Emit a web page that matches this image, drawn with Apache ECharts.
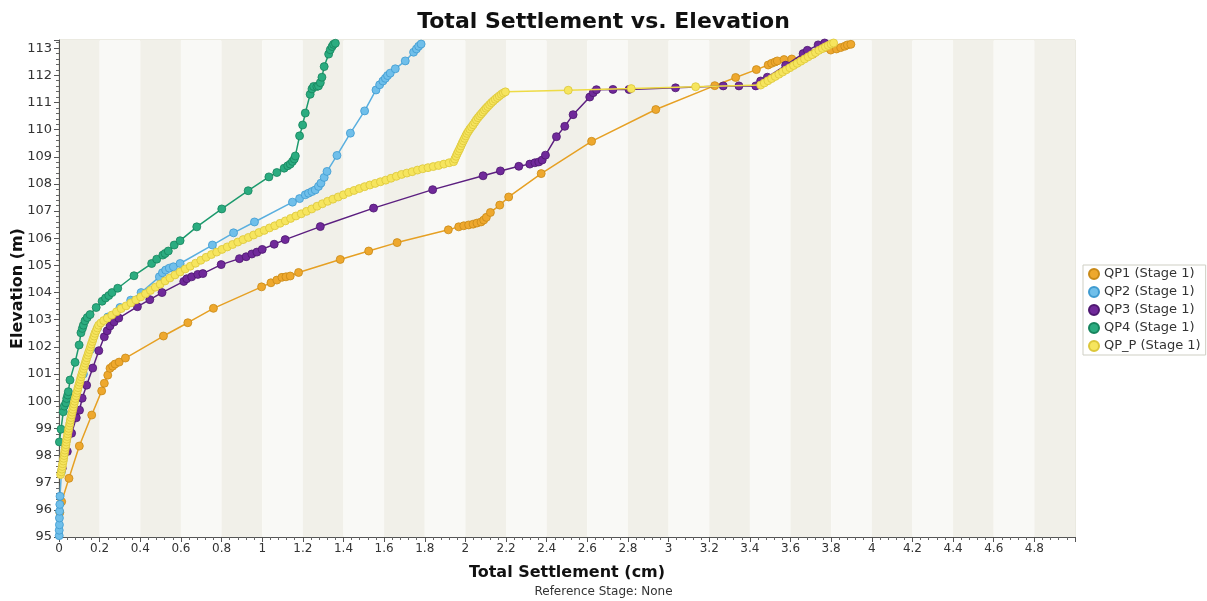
<!DOCTYPE html>
<html>
<head>
<meta charset="utf-8">
<script src="https://cdn.jsdelivr.net/npm/echarts@6/dist/echarts.min.js"></script>
<style>
  html, body { margin: 0; padding: 0; background: #ffffff; }
  #chart { width: 1207px; height: 601px; }
</style>
</head>
<body>
<div id="chart"></div>
<script>
// Settlement profiles: x = total settlement (cm), y = elevation (m)
const seriesNames = ['QP1 (Stage 1)', 'QP2 (Stage 1)', 'QP3 (Stage 1)', 'QP4 (Stage 1)', 'QP_P (Stage 1)'];

const qp1X = [0.004, 0.013, 0.049, 0.100, 0.161, 0.210, 0.223, 0.240, 0.251, 0.264, 0.276, 0.296, 0.327, 0.514, 0.634, 0.760, 0.997, 1.043, 1.072, 1.097, 1.117, 1.138, 1.179, 1.384, 1.524, 1.664, 1.916, 1.967, 1.992, 2.016, 2.038, 2.057, 2.077, 2.090, 2.103, 2.123, 2.169, 2.213, 2.373, 2.621, 2.937, 3.227, 3.330, 3.432, 3.490, 3.507, 3.524, 3.535, 3.568, 3.606, 3.710, 3.798, 3.826, 3.847, 3.867, 3.880, 3.897];
const qp1Y = [95.90, 96.30, 97.16, 98.35, 99.49, 100.38, 100.66, 100.96, 101.21, 101.29, 101.37, 101.44, 101.59, 102.40, 102.89, 103.42, 104.21, 104.36, 104.46, 104.56, 104.58, 104.61, 104.74, 105.22, 105.53, 105.84, 106.31, 106.42, 106.46, 106.49, 106.52, 106.56, 106.60, 106.67, 106.77, 106.95, 107.22, 107.52, 108.38, 109.57, 110.74, 111.62, 111.92, 112.21, 112.38, 112.44, 112.49, 112.53, 112.58, 112.60, 112.78, 112.93, 112.97, 113.02, 113.07, 113.12, 113.14];

const qp2X = [0.001, 0.001, 0.002, 0.002, 0.003, 0.004, 0.005, 0.012, 0.030, 0.055, 0.085, 0.120, 0.155, 0.190, 0.240, 0.300, 0.353, 0.404, 0.494, 0.509, 0.525, 0.543, 0.563, 0.596, 0.755, 0.859, 0.962, 1.149, 1.184, 1.212, 1.228, 1.245, 1.261, 1.277, 1.289, 1.305, 1.319, 1.368, 1.434, 1.504, 1.560, 1.578, 1.594, 1.606, 1.617, 1.630, 1.655, 1.704, 1.745, 1.759, 1.770, 1.782];
const qp2Y = [95.05, 95.25, 95.45, 95.70, 95.95, 96.20, 96.50, 97.40, 98.30, 99.20, 100.10, 101.00, 101.90, 102.70, 103.10, 103.45, 103.72, 104.00, 104.58, 104.73, 104.83, 104.90, 104.95, 105.07, 105.75, 106.20, 106.60, 107.33, 107.46, 107.60, 107.66, 107.72, 107.78, 107.91, 108.03, 108.24, 108.46, 109.05, 109.87, 110.69, 111.46, 111.65, 111.79, 111.89, 111.99, 112.08, 112.24, 112.53, 112.85, 112.97, 113.07, 113.15];

const qp3X = [0.016, 0.041, 0.062, 0.085, 0.101, 0.114, 0.136, 0.166, 0.196, 0.223, 0.237, 0.251, 0.271, 0.294, 0.386, 0.447, 0.507, 0.614, 0.629, 0.653, 0.683, 0.708, 0.798, 0.888, 0.921, 0.949, 0.974, 1.000, 1.059, 1.113, 1.286, 1.548, 1.839, 2.087, 2.172, 2.263, 2.317, 2.342, 2.361, 2.378, 2.394, 2.448, 2.489, 2.530, 2.612, 2.629, 2.645, 2.726, 2.805, 3.034, 3.269, 3.346, 3.429, 3.453, 3.486, 3.576, 3.662, 3.683, 3.736, 3.768];
const qp3Y = [97.53, 98.15, 98.82, 99.39, 99.67, 100.11, 100.59, 101.22, 101.86, 102.37, 102.59, 102.77, 102.92, 103.06, 103.48, 103.74, 104.00, 104.41, 104.51, 104.58, 104.67, 104.70, 105.03, 105.25, 105.32, 105.42, 105.49, 105.59, 105.78, 105.95, 106.43, 107.11, 107.79, 108.30, 108.48, 108.65, 108.73, 108.78, 108.81, 108.88, 109.06, 109.74, 110.12, 110.55, 111.20, 111.36, 111.47, 111.48, 111.48, 111.54, 111.61, 111.61, 111.61, 111.79, 111.93, 112.37, 112.80, 112.92, 113.12, 113.19];

const qp4X = [0.002, 0.010, 0.021, 0.026, 0.034, 0.038, 0.043, 0.046, 0.054, 0.079, 0.099, 0.108, 0.115, 0.120, 0.128, 0.139, 0.153, 0.183, 0.212, 0.229, 0.245, 0.261, 0.289, 0.369, 0.456, 0.481, 0.511, 0.522, 0.538, 0.567, 0.596, 0.678, 0.801, 0.931, 1.033, 1.072, 1.108, 1.126, 1.138, 1.149, 1.158, 1.163, 1.184, 1.199, 1.212, 1.236, 1.245, 1.253, 1.269, 1.277, 1.286, 1.294, 1.305, 1.327, 1.335, 1.344, 1.351, 1.360];
const qp4Y = [98.50, 98.97, 99.61, 99.82, 99.94, 100.10, 100.23, 100.35, 100.78, 101.43, 102.07, 102.52, 102.68, 102.80, 102.96, 103.08, 103.19, 103.45, 103.68, 103.80, 103.89, 104.00, 104.16, 104.62, 105.07, 105.23, 105.38, 105.44, 105.53, 105.75, 105.91, 106.42, 107.08, 107.75, 108.26, 108.42, 108.58, 108.67, 108.73, 108.83, 108.92, 109.03, 109.77, 110.17, 110.61, 111.30, 111.50, 111.59, 111.59, 111.61, 111.73, 111.93, 112.32, 112.78, 112.94, 113.06, 113.14, 113.18];

const qpPX = [
  0.008, 0.011, 0.014, 0.016, 0.018, 0.021, 0.023, 0.025, 0.027, 0.029, 0.032, 0.034, 0.036, 0.038, 0.041, 0.043, 0.046, 0.048, 0.051, 0.054,
  0.056, 0.059, 0.062, 0.065, 0.068, 0.071, 0.074, 0.077, 0.080, 0.084, 0.087, 0.091, 0.094, 0.098, 0.102, 0.105, 0.109, 0.113, 0.117, 0.121,
  0.125, 0.129, 0.133, 0.137, 0.142, 0.146, 0.151, 0.155, 0.159, 0.164, 0.168, 0.173, 0.177, 0.183, 0.189, 0.195,
  0.206, 0.220, 0.238, 0.260, 0.283, 0.306, 0.330, 0.354, 0.378, 0.402, 0.426, 0.450, 0.474, 0.498, 0.522, 0.546, 0.571, 0.596, 0.621, 0.646,
  0.672, 0.698, 0.724, 0.750, 0.776, 0.802, 0.828, 0.854, 0.880, 0.906, 0.932, 0.958, 0.984, 1.010, 1.036, 1.062, 1.088, 1.114, 1.140, 1.166,
  1.192, 1.218, 1.244, 1.270, 1.296, 1.322, 1.348, 1.374, 1.400, 1.426, 1.452, 1.478, 1.504, 1.530, 1.556, 1.582, 1.608, 1.634, 1.660, 1.686,
  1.712, 1.738, 1.764, 1.790, 1.816, 1.842, 1.868, 1.894, 1.920,
  1.942, 1.948, 1.954, 1.960, 1.966, 1.972, 1.978, 1.984, 1.990, 1.996, 2.002, 2.008, 2.015, 2.022, 2.030, 2.038, 2.046, 2.054, 2.062, 2.070,
  2.078, 2.086, 2.094, 2.102, 2.110, 2.119, 2.128, 2.137, 2.147, 2.157, 2.167, 2.177, 2.187, 2.197,
  2.506, 2.816, 3.133,
  3.453, 3.471, 3.489, 3.507, 3.525, 3.543, 3.561, 3.579, 3.597, 3.615, 3.633, 3.651, 3.669, 3.687, 3.705, 3.723, 3.740, 3.757, 3.772, 3.786,
  3.800, 3.812
];
const qpPY = [
  97.3, 97.4, 97.5, 97.6, 97.7, 97.8, 97.9, 98.0, 98.1, 98.2, 98.3, 98.4, 98.5, 98.6, 98.7, 98.8, 98.9, 99.0, 99.1, 99.2,
  99.3, 99.4, 99.5, 99.6, 99.7, 99.8, 99.9, 100.0, 100.1, 100.2, 100.3, 100.4, 100.5, 100.6, 100.7, 100.8, 100.9, 101.0, 101.1, 101.2,
  101.3, 101.4, 101.5, 101.6, 101.7, 101.8, 101.9, 102.0, 102.1, 102.2, 102.3, 102.4, 102.5, 102.6, 102.7, 102.8,
  102.88, 102.97, 103.06, 103.17, 103.29, 103.41, 103.51, 103.62, 103.73, 103.84, 103.96, 104.08, 104.20, 104.31, 104.43, 104.54, 104.65, 104.76, 104.87, 104.97,
  105.08, 105.19, 105.30, 105.40, 105.49, 105.59, 105.68, 105.77, 105.86, 105.95, 106.03, 106.12, 106.21, 106.29, 106.38, 106.46, 106.55, 106.64, 106.73, 106.82,
  106.90, 106.99, 107.08, 107.18, 107.27, 107.36, 107.44, 107.52, 107.60, 107.69, 107.76, 107.83, 107.90, 107.96, 108.02, 108.08, 108.14, 108.21, 108.28, 108.35,
  108.40, 108.45, 108.51, 108.56, 108.60, 108.64, 108.68, 108.73, 108.78,
  108.82, 108.92, 109.02, 109.12, 109.21, 109.30, 109.40, 109.50, 109.59, 109.68, 109.77, 109.86, 109.94, 110.02, 110.10, 110.18, 110.27, 110.36, 110.44, 110.51,
  110.58, 110.65, 110.72, 110.79, 110.85, 110.92, 110.99, 111.05, 111.12, 111.18, 111.24, 111.30, 111.35, 111.39,
  111.45, 111.51, 111.58,
  111.64, 111.72, 111.80, 111.88, 111.96, 112.04, 112.12, 112.20, 112.28, 112.36, 112.44, 112.52, 112.60, 112.68, 112.76, 112.84, 112.92, 112.99, 113.05, 113.10,
  113.15, 113.19
];

const xRange = [0, 5];
const yRange = [95, 113.3];

const styles = [
  { line: '#e6a023', fill: '#eea82e', border: '#c98a18' },
  { line: '#5aafdf', fill: '#70bfea', border: '#3f9bd0' },
  { line: '#5c1f80', fill: '#70299a', border: '#4e1870' },
  { line: '#1c9a6d', fill: '#2bac80', border: '#17845d' },
  { line: '#eedb45', fill: '#f6e55e', border: '#dcc73a' }
];

function pairs(xs, ys) {
  return xs.map((x, i) => [x, ys[i]]);
}
const dataSets = [pairs(qp1X, qp1Y), pairs(qp2X, qp2Y), pairs(qp3X, qp3Y), pairs(qp4X, qp4Y), pairs(qpPX, qpPY)];

const chart = echarts.init(document.getElementById('chart'), null, { renderer: 'canvas' });

const axisFont = 'DejaVu Sans, Verdana, sans-serif';

chart.setOption({
  animation: false,
  backgroundColor: '#ffffff',
  title: {
    text: 'Total Settlement vs. Elevation',
    left: 'center',
    top: 6,
    textStyle: { fontFamily: axisFont, fontSize: 22, fontWeight: 'bold', color: '#111' }
  },
  graphic: [{
    type: 'text',
    left: 'center',
    top: 586,
    style: { text: 'Reference Stage: None', font: '12px ' + axisFont, fill: '#333' }
  }],
  legend: {
    orient: 'vertical',
    left: 1083,
    top: 265,
    data: seriesNames,
    icon: 'circle',
    itemWidth: 10,
    itemHeight: 10,
    itemGap: 4,
    padding: [2, 5, 2, 5],
    borderColor: '#cfcfc4',
    borderWidth: 1,
    backgroundColor: '#ffffff',
    borderRadius: 0,
    textStyle: { fontFamily: axisFont, fontSize: 13, color: '#333', lineHeight: 14 }
  },
  grid: {
    left: 59, right: 132, top: 40, bottom: 64,
    outerBoundsMode: 'none',
    containLabel: false,
    show: true,
    borderColor: '#d6d4c2',
    borderWidth: 1,
    backgroundColor: 'transparent'
  },
  xAxis: {
    type: 'value',
    min: xRange[0], max: xRange[1], interval: 0.2,
    name: 'Total Settlement (cm)',
    nameLocation: 'middle',
    nameGap: 28,
    nameMoveOverlap: false,
    nameTextStyle: { fontFamily: axisFont, fontSize: 16, fontWeight: 'bold', color: '#111' },
    axisLine: { show: true, onZero: false, lineStyle: { color: '#555', width: 1 } },
    axisTick: { show: true, length: 5, lineStyle: { color: '#555' } },
    minorTick: { show: true, splitNumber: 5, length: 3, lineStyle: { color: '#666' } },
    axisLabel: { fontFamily: axisFont, fontSize: 12, color: '#333', margin: 6, showMaxLabel: false },
    splitLine: { show: false },
    splitArea: { show: true, areaStyle: { color: ['#f1f0e9', '#f9f9f6'] } }
  },
  yAxis: {
    type: 'value',
    min: yRange[0], max: yRange[1], interval: 1,
    name: 'Elevation (m)',
    nameLocation: 'middle',
    nameGap: 33,
    nameMoveOverlap: false,
    nameTextStyle: { fontFamily: axisFont, fontSize: 16, fontWeight: 'bold', color: '#111' },
    axisLine: { show: true, onZero: false, lineStyle: { color: '#555', width: 1 } },
    axisTick: { show: true, length: 5, lineStyle: { color: '#555' } },
    minorTick: { show: true, splitNumber: 5, length: 3, lineStyle: { color: '#666' } },
    axisLabel: { fontFamily: axisFont, fontSize: 13, color: '#333', margin: 7, showMaxLabel: false },
    splitLine: { show: false }
  },
  series: dataSets.map((d, i) => ({
    name: seriesNames[i],
    type: 'line',
    data: d,
    showAllSymbol: true,
    symbol: 'circle',
    symbolSize: 8,
    lineStyle: { color: styles[i].line, width: 1.5 },
    itemStyle: { color: styles[i].fill, borderColor: styles[i].border, borderWidth: 0.8 },
    emphasis: { disabled: true },
    z: 2 + i
  }))
});
</script>
</body>
</html>
